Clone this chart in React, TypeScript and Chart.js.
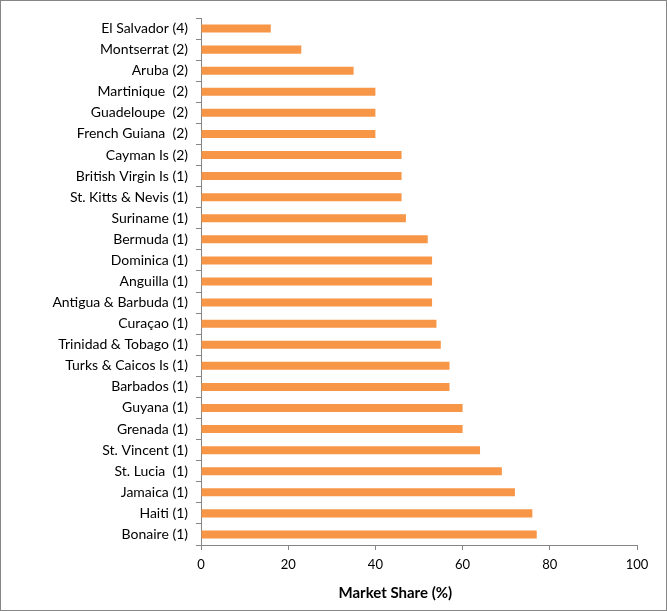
import React, { useEffect, useRef } from "react";
import { Chart, registerables } from "chart.js";

Chart.register(...registerables);

const categories = [
  "El Salvador (4)",
  "Montserrat (2)",
  "Aruba (2)",
  "Martinique  (2)",
  "Guadeloupe  (2)",
  "French Guiana  (2)",
  "Cayman Is (2)",
  "British Virgin Is (1)",
  "St. Kitts & Nevis (1)",
  "Suriname (1)",
  "Bermuda (1)",
  "Dominica (1)",
  "Anguilla (1)",
  "Antigua & Barbuda (1)",
  "Curaçao (1)",
  "Trinidad & Tobago (1)",
  "Turks & Caicos Is (1)",
  "Barbados (1)",
  "Guyana (1)",
  "Grenada (1)",
  "St. Vincent (1)",
  "St. Lucia  (1)",
  "Jamaica (1)",
  "Haiti (1)",
  "Bonaire (1)",
];

const marketShare = [
  16, 23, 35, 40, 40, 40, 46, 46, 46, 47, 52, 53, 53, 53, 54, 55, 57, 57, 60, 60,
  64, 69, 72, 76, 77,
];

const xTicks = [0, 20, 40, 60, 80, 100];
const xTitle = "Market Share (%)" + "\u00A0".repeat(13);

const FONT = "Lato, 'Open Sans', sans-serif";
const AXIS = "#868686";

export default function App() {
  const ref = useRef<HTMLCanvasElement | null>(null);

  useEffect(() => {
    if (!ref.current) return;
    const chart = new Chart(ref.current, {
      type: "bar",
      data: {
        labels: categories,
        datasets: [
          {
            data: marketShare,
            backgroundColor: "#F79646",
            borderWidth: 0,
            barPercentage: 0.38,
            categoryPercentage: 1,
          },
        ],
      },
      options: {
        indexAxis: "y",
        animation: false,
        responsive: false,
        layout: { padding: { left: 0, right: 29, top: 17, bottom: 8 } },
        plugins: { legend: { display: false }, tooltip: { enabled: false } },
        scales: {
          x: {
            min: 0,
            max: 100,
            afterBuildTicks: (s: any) => {
              s.ticks = xTicks.map((v) => ({ value: v }));
            },
            afterFit: (s: any) => {
              s.height = 57;
            },
            border: { display: true, color: AXIS, width: 1 },
            grid: {
              display: true,
              drawOnChartArea: false,
              drawTicks: true,
              tickLength: 5,
              color: AXIS,
            },
            ticks: {
              padding: 7,
              color: "#000",
              font: { family: FONT, size: 13 },
              maxRotation: 0,
            },
            title: {
              display: true,
              text: xTitle,
              color: "#000",
              padding: 0,
              font: { family: FONT, size: 15, weight: "bold" },
            },
          },
          y: {
            afterFit: (s: any) => {
              s.width = 200;
            },
            border: { display: true, color: AXIS, width: 1 },
            grid: {
              display: true,
              offset: true,
              drawOnChartArea: false,
              drawTicks: true,
              tickLength: 5,
              color: AXIS,
            },
            ticks: {
              padding: 8,
              color: "#000",
              autoSkip: false,
              font: { family: FONT, size: 14 },
            },
          },
        },
      },
    });
    return () => chart.destroy();
  }, []);

  return (
    <div
      style={{
        position: "absolute",
        left: 0,
        top: 0,
        width: 667,
        height: 611,
        boxSizing: "border-box",
        border: "1px solid #868686",
        background: "#fff",
      }}
    >
      <canvas ref={ref} width={665} height={609} style={{ display: "block" }} />
    </div>
  );
}
